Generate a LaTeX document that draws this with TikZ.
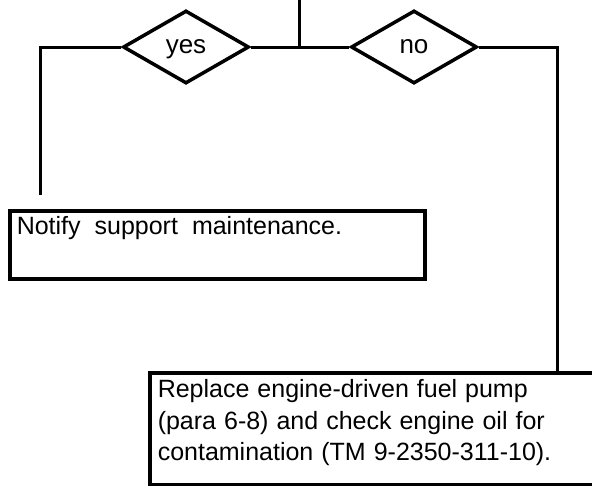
\documentclass[tikz,border=0pt]{standalone}
\usepackage{fontspec}
\setmainfont{Liberation Sans}
\usetikzlibrary{shapes.geometric}
\begin{document}
\begin{tikzpicture}[x=1pt,y=-1pt,
  conn/.style={line width=3pt},
  decision/.style={diamond, draw, line width=3.5pt, minimum width=126pt, minimum height=73pt, inner sep=0pt, text height=13pt, text depth=0pt, font=\fontsize{26}{30}\selectfont},
  actionbox/.style={draw, line width=3.5pt, rectangle, inner sep=0pt, anchor=north west, font=\fontsize{25}{31.5}\selectfont}
]
\useasboundingbox (0,0) rectangle (592,485);
\clip (0,0) rectangle (592,485);
\coordinate (top) at (299,0);
\coordinate (j) at (299,47);
\coordinate (lx) at (40,47);
\coordinate (rx) at (557,47);
\node[decision] (yes) at (186,47) {yes};
\node[decision] (no) at (414,47) {no};
\node[actionbox] (notify) at (8,209) {\begin{minipage}[t][68pt][t]{415pt}\spaceskip=14pt\leftskip=7pt\vspace*{6pt}Notify support maintenance.\end{minipage}};
\node[actionbox] (replace) at (148,371) {\begin{minipage}[t][112pt][t]{460pt}\raggedright\spaceskip=8pt\leftskip=8pt\vspace*{7pt}Replace engine-driven fuel pump\\(para 6-8) and check engine oil for\\contamination (TM 9-2350-311-10).\end{minipage}};
\draw[conn] (top) -- (j);
\draw[conn] (yes.east) -- (j) -- (no.west);
\draw[conn, shorten >=14pt] (yes.west) -| (notify.north west -| lx);
\draw[conn] (no.east) -| (replace.north west -| rx);
\end{tikzpicture}
\end{document}
